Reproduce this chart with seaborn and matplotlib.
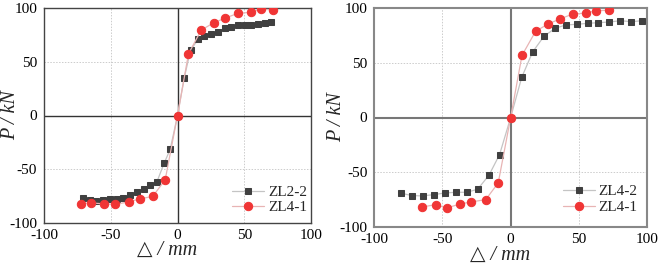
import matplotlib
matplotlib.use("Agg")
import matplotlib.pyplot as plt
import seaborn as sns
import pandas as pd

# ---- data ----
left_zl22_x = [-71.0, -65.5, -61.0, -55.5, -50.3, -45.5, -40.5, -35.5, -30.0, -25.2, -20.5, -15.5,
               -10.0, -5.5, 0, 5.0, 9.8, 15.5, 20.2, 25.4, 30.2, 35.4, 40.1, 45.4, 50.4, 55.4,
               60.1, 65.6, 70.1]
left_zl22_y = [-76.8, -79.0, -79.2, -79.0, -78.0, -77.4, -76.4, -73.7, -71.2, -68.1, -64.4, -62.0,
               -44.3, -31.6, 0, 34.7, 61.0, 70.8, 73.8, 75.4, 77.3, 81.0, 82.2, 84.1, 84.1, 84.1,
               85.4, 85.7, 86.6]
left_zl41_x = [-72.6, -65.1, -55.1, -46.9, -36.7, -28.2, -18.5, -9.2, 0, 8.2, 17.7, 27.2, 35.9,
               45.1, 55.1, 62.3, 71.8]
left_zl41_y = [-82.2, -81.3, -82.2, -82.6, -80.5, -77.6, -75.2, -59.7, 0, 57.2, 79.4, 86.3, 90.7,
               95.0, 96.0, 98.8, 98.4]

right_zl42_x = [-80.2, -72.4, -64.5, -56.2, -48.2, -40.1, -32.0, -24.2, -15.9, -8.1, 0, 8.1, 16.1,
                24.4, 32.5, 40.3, 48.4, 56.5, 64.3, 72.4, 80.4, 88.5, 96.6]
right_zl42_y = [-69.2, -71.3, -71.6, -70.4, -68.9, -68.3, -68.3, -65.5, -52.7, -33.8, 0, 36.6, 59.8,
                74.1, 81.4, 84.5, 85.1, 86.0, 86.6, 87.2, 88.4, 87.5, 88.4]
right_zl41_x = [-64.9, -55.0, -47.0, -37.0, -28.9, -18.3, -9.1, 0, 8.3, 18.3, 27.4, 36.0, 45.5,
                55.5, 62.8, 72.4]
right_zl41_y = [-81.7, -79.6, -82.6, -79.0, -77.1, -75.0, -59.7, 0, 56.7, 78.7, 85.4, 89.9, 94.5,
                95.4, 97.6, 97.9]

ticks = [-100, -50, 0, 50, 100]
tick_labels = ["-100", "-50", "0", "50", "100"]
xlabel = "△ / mm"
ylabel = "P / kN"

sns.set_style("white")
plt.rcParams['font.family'] = ['Liberation Serif', 'DejaVu Sans']

fig = plt.figure(figsize=(6.61, 2.68), dpi=100)
ax1 = fig.add_axes([44/661, 1-223/268, 267/661, 215/268])
ax2 = fig.add_axes([374.3/661, 1-227/268, 272.7/661, 219/268])

sq_face = '#404040'
sq_line = '#c4c4c4'
ci_face = '#f03535'
ci_line = '#e8b4b4'

def draw(ax, sx, sy, slabel, cx, cy, clabel, spine_col, zero_col, zero_lw, spine_lw,
         ylab_x, xlab_x, leg_anchor):
    ax.set_xlim(-100, 100)
    ax.set_ylim(-100, 100)
    for v in (-50, 50):
        ax.axvline(v, color='#cccccc', lw=0.7, ls=(0, (1.5, 1.5)), zorder=0)
        ax.axhline(v, color='#cccccc', lw=0.7, ls=(0, (1.5, 1.5)), zorder=0)
    ax.axvline(0, color=zero_col, lw=zero_lw, zorder=1)
    ax.axhline(0, color=zero_col, lw=zero_lw, zorder=1)
    d1 = pd.DataFrame({'x': sx, 'y': sy})
    d2 = pd.DataFrame({'x': cx, 'y': cy})
    sns.lineplot(data=d1, x='x', y='y', ax=ax, sort=False, color=sq_line, lw=0.9,
                 marker='s', markersize=4.8, markerfacecolor=sq_face, markeredgecolor=sq_face,
                 label=slabel, zorder=3)
    sns.lineplot(data=d2, x='x', y='y', ax=ax, sort=False, color=ci_line, lw=0.9,
                 marker='o', markersize=6, markerfacecolor=ci_face, markeredgecolor=ci_face,
                 label=clabel, zorder=4)
    ax.set_xticks(ticks)
    ax.set_xticklabels(tick_labels)
    ax.set_yticks(ticks)
    ax.set_yticklabels(tick_labels)
    ax.tick_params(direction='in', length=3, width=0.8, colors=spine_col, labelcolor='black',
                   labelsize=11)
    ax.tick_params(axis='y', pad=5)
    ax.tick_params(axis='x', pad=4)
    for s in ax.spines.values():
        s.set_color(spine_col)
        s.set_linewidth(spine_lw)
    ax.set_xlabel(xlabel, fontsize=14.5, style='italic')
    ax.xaxis.set_label_coords(xlab_x, -0.085)
    ax.xaxis.label.set_va('top')
    ax.set_ylabel(ylabel, fontsize=14.5, style='italic')
    ax.yaxis.set_label_coords(ylab_x, 0.5)
    ax.legend(loc='lower right', frameon=False, fontsize=11, handlelength=2.1,
              handletextpad=0.25, borderaxespad=0, borderpad=0, labelspacing=0.12,
              bbox_to_anchor=leg_anchor)

draw(ax1, left_zl22_x, left_zl22_y, 'ZL2-2', left_zl41_x, left_zl41_y, 'ZL4-1',
     '#444444', '#333333', 1.0, 1.0, -0.09, 0.46, (0.985, 0.04))
draw(ax2, right_zl42_x, right_zl42_y, 'ZL4-2', right_zl41_x, right_zl41_y, 'ZL4-1',
     '#888888', '#777777', 1.5, 1.5, -0.103, 0.46, (0.965, 0.06))

fig.savefig('out.png', dpi=100)
